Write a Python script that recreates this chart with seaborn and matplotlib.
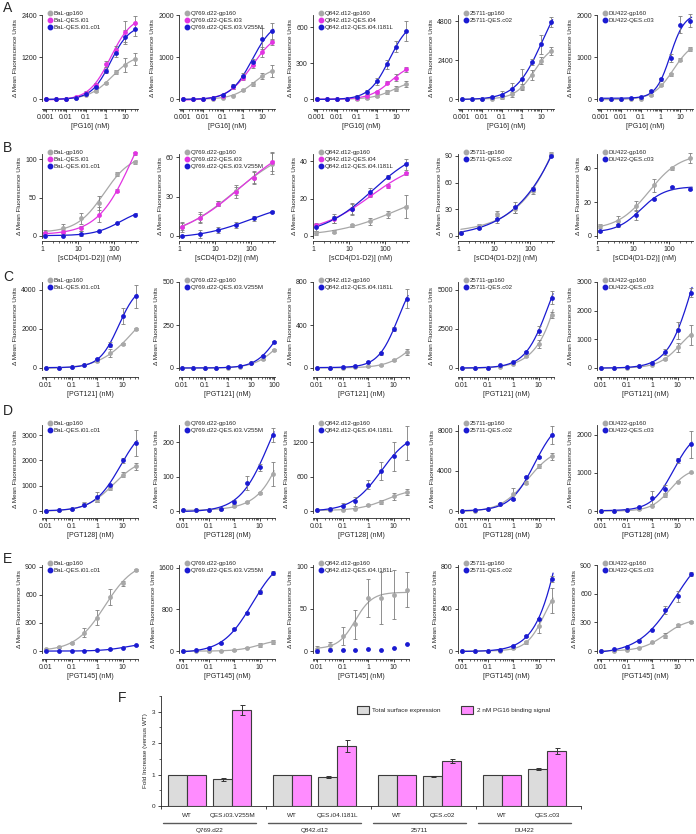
import numpy as np
import matplotlib
matplotlib.use("Agg")
import matplotlib.pyplot as plt
import seaborn as sns
from matplotlib.lines import Line2D
from matplotlib.patches import Patch
from matplotlib.ticker import (FuncFormatter, NullFormatter, MultipleLocator, FixedLocator,
                               LogLocator)

sns.set_style("ticks")
plt.rcParams["font.family"] = ["Liberation Sans", "DejaVu Sans"]

# ---------------- data ----------------
PG16_NM = [0.001, 0.0032, 0.01, 0.032, 0.1, 0.32, 1, 3.2, 10, 32]
SCD4_NM = [1.2, 3.8, 12, 38, 120, 380]
PGT_NM = [0.01, 0.032, 0.1, 0.32, 1, 3.2, 10, 32]
PGT121_Q769_NM = [0.01, 0.032, 0.1, 0.32, 1, 3.2, 10, 32, 100]

STRAINS = ["BaL", "Q769.d22", "Q842.d12", "25711", "DU422"]
MID_CLONES = ["QES.i01", "QES.i03", "QES.i04", "", ""]
END_CLONES = ["QES.i01.c01", "QES.i03.V255M", "QES.i04.I181L", "QES.c02", "QES.c03"]

# row A, PG16 (gp160 / mid clone / end clone)
A1_Y = [[0, 0, 5, 30, 120, 220, 460, 770, 960, 1150],
        [0, 0, 5, 50, 180, 400, 1000, 1410, 1920, 2180],
        [0, 0, 5, 40, 150, 330, 800, 1310, 1760, 1990]]
A1_ERR = [[0, 0, 0, 0, 15, 30, 40, 60, 200, 170],
          [0, 0, 0, 10, 40, 60, 90, 110, 300, 180],
          [0, 0, 0, 10, 30, 40, 60, 100, 200, 180]]
A2_Y = [[0, 0, 0, 10, 30, 80, 220, 350, 550, 670],
        [0, 0, 0, 20, 60, 275, 500, 800, 1120, 1360],
        [0, 0, 0, 20, 90, 300, 550, 880, 1430, 1610]]
A2_ERR = [[0, 0, 0, 0, 10, 15, 30, 50, 70, 150],
          [0, 0, 0, 5, 20, 40, 50, 60, 120, 80],
          [0, 0, 0, 5, 30, 60, 60, 80, 250, 200]]
A3_Y = [[0, 0, 0, 0, 0, 5, 28, 57, 85, 125],
        [0, 0, 0, 0, 6, 25, 57, 136, 176, 249],
        [0, 0, 0, 3, 20, 57, 147, 289, 436, 566]]
A3_ERR = [[5, 5, 5, 5, 5, 8, 10, 15, 20, 25],
          [0, 0, 5, 5, 5, 10, 10, 15, 30, 20],
          [5, 5, 5, 5, 10, 15, 30, 35, 45, 80]]
A4_Y = [[0, 0, 0, 0, 140, 280, 730, 1490, 2380, 2975],
        [0, 0, 0, 100, 260, 630, 1230, 2280, 3390, 4780]]
A4_ERR = [[0, 0, 0, 0, 60, 150, 200, 300, 200, 250],
          [0, 0, 0, 30, 250, 350, 600, 200, 600, 300]]
A5_Y = [[0, 0, 0, 0, 10, 100, 330, 590, 940, 1190],
        [0, 0, 0, 20, 55, 196, 470, 973, 1765, 1867]]
A5_ERR = [[0, 0, 0, 0, 5, 20, 30, 40, 30, 40],
          [0, 0, 0, 10, 20, 30, 40, 90, 200, 150]]

# row B, sCD4
B1_Y = [[4.5, 10, 23, 43.5, 81, 96], [3.6, 5.4, 10, 28, 59, 108], [0.5, 0.5, 3, 6, 16.6, 28]]
B1_ERR = [[3, 6, 7, 9, 3, 2], [2, 3, 3, 10, 2, 2], [1, 1, 3, 1, 1, 1]]
B2_Y = [[7, 14, 24.5, 34, 44.5, 55], [7.2, 13.6, 24.7, 33.7, 44.5, 56.7], [0, 1.5, 4.6, 8.5, 13.6, 18.3]]
B2_ERR = [[4, 4, 2, 3, 4, 8], [3, 3, 2, 5, 5, 7], [0.5, 3, 2, 2.5, 2, 0.5]]
B3_Y = [[1.8, 2.4, 5.7, 7.9, 11.6, 15.8], [6, 9, 14.3, 22, 27, 33.6], [4.6, 9.4, 14.7, 23.5, 31.7, 38.5]]
B3_ERR = [[1, 1, 1, 2, 2, 6], [1, 2, 3, 1, 1, 1], [2, 2.5, 3, 2, 1, 3]]
B4_Y = [[3.7, 11, 24.6, 30, 50, 92], [3.3, 9.2, 19, 32, 53, 89.6]]
B4_ERR = [[2, 2, 4, 4, 3, 2], [1, 1, 4, 6, 2, 1]]
B5_Y = [[6, 8.7, 17.7, 30, 40, 46], [2.8, 6.3, 12.5, 21.8, 28.8, 28]]
B5_ERR = [[1, 3, 3, 4, 1, 3], [0.5, 1, 3, 0.5, 1, 1]]

# row C, PGT121
C1_Y = [[0, 0, 50, 150, 340, 770, 1236, 1974], [0, 0, 50, 170, 480, 1200, 2660, 3660]]
C1_ERR = [[0, 0, 10, 20, 30, 200, 60, 50], [0, 0, 10, 20, 40, 150, 400, 600]]
C2_Y = [[0, 0, 0, 0, 2, 6, 27, 51, 106], [0, 0, 0, 2, 5, 10, 27, 72, 150]]
C2_ERR = [[0, 0, 0, 0, 1, 1, 2, 4, 5], [0, 0, 0, 1, 1, 1, 2, 5, 5]]
C3_Y = [[0, 0, 0, 9, 16, 25, 72, 148], [0, 0, 10, 22, 57, 135, 362, 646]]
C3_ERR = [[0, 0, 0, 2, 3, 4, 10, 30], [0, 0, 2, 4, 5, 10, 20, 90]]
C4_Y = [[0, 0, 10, 60, 275, 740, 1550, 3410], [0, 0, 30, 170, 360, 1017, 2390, 4500]]
C4_ERR = [[0, 0, 10, 10, 30, 60, 250, 200], [0, 0, 10, 20, 40, 60, 300, 400]]
C5_Y = [[0, 0, 0, 57, 115, 310, 720, 1165], [0, 0, 30, 80, 170, 570, 1314, 2630]]
C5_ERR = [[0, 0, 0, 10, 15, 30, 150, 350], [0, 0, 10, 15, 30, 100, 300, 150]]

# row D, PGT128
D1_Y = [[0, 20, 80, 267, 453, 893, 1427, 1760], [0, 30, 93, 227, 560, 1027, 2000, 2693]]
D1_ERR = [[0, 5, 10, 80, 80, 50, 100, 130], [0, 5, 10, 30, 200, 30, 100, 500]]
D2_Y = [[3, 3, 3, 5, 13.5, 26, 52, 108], [2, 2, 4, 7, 26, 81, 127.5, 222]]
D2_ERR = [[1, 1, 1, 1, 3, 2, 3, 35], [1, 1, 1, 1, 6, 20, 10, 20]]
D3_Y = [[15, 15, 23, 41, 99, 157, 255, 325], [23, 40, 81, 168, 458, 696, 951, 1189]]
D3_ERR = [[5, 5, 5, 10, 20, 30, 60, 50], [5, 10, 50, 80, 80, 150, 250, 300]]
D4_Y = [[0, 40, 200, 680, 1700, 2810, 4500, 5460], [0, 60, 220, 680, 1190, 3390, 5420, 7560]]
D4_ERR = [[0, 10, 30, 80, 600, 150, 200, 350], [0, 10, 30, 60, 60, 100, 100, 900]]
D5_Y = [[0, 0, 20, 44, 132, 423, 767, 1013], [0, 10, 30, 106, 352, 573, 1322, 1745]]
D5_ERR = [[0, 0, 5, 10, 10, 60, 20, 20], [0, 5, 10, 20, 170, 120, 70, 350]]

# row E, PGT145
E1_Y = [[18, 39, 86, 196, 357, 579, 721, 864], [0, 0, 0, 0, 7, 18, 36, 61]]
E1_ERR = [[5, 10, 10, 50, 80, 85, 30, 15], [0, 0, 0, 0, 1, 2, 3, 3]]
E2_Y = [[0, 0, 0, 0, 13, 66, 111, 177], [5, 13, 59, 144, 426, 734, 1128, 1489]]
E2_ERR = [[0, 0, 0, 0, 5, 15, 40, 40], [2, 2, 5, 10, 15, 20, 40, 40]]
E3_Y = [[2, 7, 17.6, 31.6, 62.8, 62.8, 66.8, 72.8], [0, 1, 1, 1.6, 2, 1, 3, 8.7]]
E3_ERR = [[4, 4, 11, 17, 23, 31, 29, 21], [0, 0, 0, 0, 0, 0, 0, 0]]
E4_Y = [[0, 0, 0, 3, 26, 81, 235, 477], [0, 0, 0, 10, 48, 139, 306, 681]]
E4_ERR = [[0, 0, 0, 2, 5, 10, 60, 120], [0, 0, 0, 3, 5, 10, 10, 30]]
E5_Y = [[0, 0, 15, 36, 89, 161, 268, 300], [0, 18, 40, 107, 225, 429, 571, 803]]
E5_ERR = [[0, 0, 3, 5, 8, 25, 15, 10], [0, 5, 5, 15, 10, 40, 60, 20]]

# panel F
F_GROUPS = ["Q769.d22", "Q842.d12", "25711", "DU422"]
F_MUTANTS = ["QES.i03.V255M", "QES.i04.I181L", "QES.c02", "QES.c03"]
F_SURF_WT = [1, 1, 1, 1]
F_PG16_WT = [1, 1, 1, 1]
F_SURF_MUT = [0.85, 0.92, 0.94, 1.18]
F_SURF_MUT_ERR = [0.05, 0.03, 0.01, 0.03]
F_PG16_MUT = [3.06, 1.91, 1.44, 1.75]
F_PG16_MUT_ERR = [0.15, 0.19, 0.06, 0.10]

# ---------------- layout / style ----------------
ROW_LETTERS = ["A", "B", "C", "D", "E"]
ROW_XLABELS = ["[PG16] (nM)", "[sCD4(D1-D2)] (nM)", "[PGT121] (nM)", "[PGT128] (nM)", "[PGT145] (nM)"]
ROW_Y = [[A1_Y, A2_Y, A3_Y, A4_Y, A5_Y], [B1_Y, B2_Y, B3_Y, B4_Y, B5_Y],
         [C1_Y, C2_Y, C3_Y, C4_Y, C5_Y], [D1_Y, D2_Y, D3_Y, D4_Y, D5_Y],
         [E1_Y, E2_Y, E3_Y, E4_Y, E5_Y]]
ROW_ERR = [[A1_ERR, A2_ERR, A3_ERR, A4_ERR, A5_ERR], [B1_ERR, B2_ERR, B3_ERR, B4_ERR, B5_ERR],
           [C1_ERR, C2_ERR, C3_ERR, C4_ERR, C5_ERR], [D1_ERR, D2_ERR, D3_ERR, D4_ERR, D5_ERR],
           [E1_ERR, E2_ERR, E3_ERR, E4_ERR, E5_ERR]]
ROW_YTICKS = [[[0, 1200, 2400], [0, 1000, 2000], [0, 300, 600], [0, 2400, 4800], [0, 1000, 2000]],
              [[0, 50, 100], [0, 30, 60], [0, 20, 40], [0, 30, 60, 90], [0, 20, 40]],
              [[0, 2000, 4000], [0, 250, 500], [0, 400, 800], [0, 2500, 5000], [0, 1000, 2000, 3000]],
              [[0, 1000, 2000, 3000], [0, 100, 200], [0, 600, 1200], [0, 4000, 8000], [0, 1000, 2000]],
              [[0, 300, 600, 900], [0, 800, 1600], [0, 50, 100], [0, 400, 800], [0, 300, 600, 900]]]
ROW_YTOP = [[2400, 2000, 700, 5200, 2000],
            [107, 62.5, 44, 92, 48.5],
            [4400, 500, 800, 5500, 3000],
            [3400, 250, 1500, 8600, 2250],
            [918, 1650, 102, 816, 900]]
NO_CURVE = [(4, 2, 1)]

W, H = 696, 834
COL_LEFT = [42, 179, 313, 458, 597]
COL_W = 96
ROW_TOP = [15, 154, 282, 425, 565]
ROW_ZERO = [99, 236, 368, 511, 651]
ROW_XAXIS = [109, 241, 377, 518, 659]
LETTER_TOP = [1, 141, 270, 404, 552]

GRAY = "#a8a8a8"
MAGENTA = "#e233e2"
BLUE = "#1a1ad2"
ERRC = "#7d7d7d"
BAR_GRAY = "#dcdcdc"
BAR_PINK = "#ff8cff"
BAR_EDGE = "#3c3c3c"


def px_rect(l, t, r, b):
    return [l / W, 1 - b / H, (r - l) / W, (b - t) / H]


def hill_curve(x, y):
    # least-squares 4-parameter logistic fit (grid over EC50 / slope)
    lx = np.log10(np.asarray(x, float))
    y = np.asarray(y, float)
    cs = np.linspace(lx.min() - 1, lx.max() + 1.5, 90)
    ns = np.linspace(0.5, 2.5, 41)
    C, N = np.meshgrid(cs, ns, indexing="ij")
    F = 1 / (1 + 10 ** ((C[..., None] - lx) * N[..., None]))
    fm = F.mean(-1)
    ym = y.mean()
    den = ((F - fm[..., None]) ** 2).sum(-1) + 1e-12
    t = np.clip(((F - fm[..., None]) * (y - ym)).sum(-1) / den, 0, None)
    b = ym - t * fm
    res = ((b[..., None] + t[..., None] * F - y) ** 2).sum(-1)
    i, j = np.unravel_index(res.argmin(), res.shape)
    xs = np.logspace(lx.min(), lx.max() + 0.06, 150)
    ys = b[i, j] + t[i, j] / (1 + 10 ** ((cs[i] - np.log10(xs)) * ns[j]))
    return xs, ys


fig = plt.figure(figsize=(W / 100, H / 100), dpi=100)

for r, letter in enumerate(ROW_LETTERS):
    fig.text(3 / W, 1 - LETTER_TOP[r] / H, letter, fontsize=10, va="top", ha="left")
    for c in range(5):
        if r == 0:
            x, xlim = PG16_NM, (0.00063, 43)
        elif r == 1:
            x, xlim = SCD4_NM, (1, 460)
        elif r == 2 and c == 1:
            x, xlim = PGT121_Q769_NM, (0.0077, 110)
        else:
            x, xlim = PGT_NM, (0.007, 40)

        ys = ROW_Y[r][c]
        errs = ROW_ERR[r][c]
        strain = STRAINS[c]
        if len(ys) == 3:
            labels = [f"{strain}-gp160", f"{strain}-{MID_CLONES[c]}", f"{strain}-{END_CLONES[c]}"]
            colors = [GRAY, MAGENTA, BLUE]
        else:
            labels = [f"{strain}-gp160", f"{strain}-{END_CLONES[c]}"]
            colors = [GRAY, BLUE]

        top_px, zero_px = ROW_TOP[r], ROW_ZERO[r]
        bottom_px = zero_px + 2
        ax = fig.add_axes(px_rect(COL_LEFT[c], top_px, COL_LEFT[c] + COL_W, bottom_px))
        ytop = ROW_YTOP[r][c]
        ybot = -ytop * (bottom_px - zero_px) / (zero_px - top_px)

        for k, (yv, ev, col) in enumerate(zip(ys, errs, colors)):
            if (r, c, k) not in NO_CURVE:
                xs, yc = hill_curve(x, yv)
                sns.lineplot(x=xs, y=yc, color=col, lw=0.9, sort=False, ax=ax, zorder=2)
            ax.errorbar(x, yv, yerr=ev, fmt="none", ecolor=ERRC, elinewidth=0.6,
                        capsize=1.2, capthick=0.6, zorder=2.5, clip_on=False)
            sns.scatterplot(x=x, y=yv, color=col, s=12, linewidth=0, ax=ax,
                            zorder=3, clip_on=False)

        ax.set_xscale("log")
        ax.set_xlim(*xlim)
        ax.set_ylim(ybot, ytop)
        ax.xaxis.set_major_locator(LogLocator(base=10, numticks=20))
        ax.xaxis.set_minor_locator(LogLocator(base=10, subs=np.arange(2, 10), numticks=20))
        ax.yaxis.set_major_locator(FixedLocator(ROW_YTICKS[r][c]))
        ax.xaxis.set_major_formatter(FuncFormatter(lambda v, p: f"{v:g}"))
        ax.xaxis.set_minor_formatter(NullFormatter())
        ax.tick_params(axis="both", which="major", labelsize=5, length=2.2, width=0.6, pad=1.5)
        ax.tick_params(axis="x", which="minor", length=1.3, width=0.5)
        ax.set_xlabel(ROW_XLABELS[r], fontsize=5, labelpad=1.5)
        ax.set_ylabel("\u0394 Mean Fluorescence Units", fontsize=4.6, labelpad=2)
        for sp in ax.spines.values():
            sp.set_linewidth(0.6)
        sns.despine(ax=ax, offset={"bottom": (ROW_XAXIS[r] - bottom_px) * 0.72, "left": 0})

        handles = [Line2D([], [], marker="o", ls="", color=col, markersize=3.2) for col in colors]
        ax.legend(handles, labels, loc="upper left", bbox_to_anchor=(0.05, 1.05), frameon=False,
                  fontsize=4.4, handletextpad=0.1, handlelength=1.0, labelspacing=0.3,
                  borderpad=0, borderaxespad=0)

# ---------------- panel F ----------------
fig.text(118 / W, 1 - 691 / H, "F", fontsize=10, va="top", ha="left")
axf = fig.add_axes(px_rect(161, 696, 581, 806))
group_w = 5.5
starts = [g * group_w for g in range(len(F_GROUPS))]
wt_gray = [s + 0.87 for s in starts]
wt_pink = [s + 1.87 for s in starts]
mut_gray = [s + 3.24 for s in starts]
mut_pink = [s + 4.24 for s in starts]
bar_kw = dict(width=1.0, edgecolor=BAR_EDGE, linewidth=0.8, zorder=2)
axf.bar(wt_gray, F_SURF_WT, color=BAR_GRAY, **bar_kw)
axf.bar(wt_pink, F_PG16_WT, color=BAR_PINK, **bar_kw)
axf.bar(mut_gray, F_SURF_MUT, color=BAR_GRAY, **bar_kw)
axf.bar(mut_pink, F_PG16_MUT, color=BAR_PINK, **bar_kw)
axf.errorbar(mut_gray, F_SURF_MUT, yerr=F_SURF_MUT_ERR, fmt="none", ecolor="#333333",
             elinewidth=0.7, capsize=1.8, capthick=0.7, zorder=3)
axf.errorbar(mut_pink, F_PG16_MUT, yerr=F_PG16_MUT_ERR, fmt="none", ecolor="#333333",
             elinewidth=0.7, capsize=1.8, capthick=0.7, zorder=3)
axf.set_xlim(0, group_w * len(F_GROUPS))
axf.set_ylim(0, 3.5)
axf.set_xticks([s for s in starts] + [group_w * len(F_GROUPS)])
axf.set_xticklabels([])
axf.yaxis.set_major_locator(MultipleLocator(1))
axf.yaxis.set_minor_locator(MultipleLocator(0.5))
axf.tick_params(axis="both", which="major", labelsize=4.6, length=2.5, width=0.6, pad=1.5)
axf.tick_params(axis="y", which="minor", length=1.5, width=0.5)
axf.set_ylabel("Fold Increase (versus WT)", fontsize=4.6, labelpad=3)
for sp in axf.spines.values():
    sp.set_linewidth(0.6)
sns.despine(ax=axf)
tr = axf.get_xaxis_transform()
for g, s in enumerate(starts):
    axf.text(s + 1.37, -0.085, "WT", transform=tr, ha="center", va="center", fontsize=4.6)
    axf.text(s + 3.74, -0.085, F_MUTANTS[g], transform=tr, ha="center", va="center", fontsize=4.6)
    axf.plot([s + 0.1, s + 5.0], [-0.155, -0.155], transform=tr, color="#5a5a5a", lw=1.0,
             clip_on=False)
    axf.text(s + 2.55, -0.22, F_GROUPS[g], transform=tr, ha="center", va="center", fontsize=4.6)
fh = [Patch(facecolor=BAR_GRAY, edgecolor=BAR_EDGE, linewidth=0.8),
      Patch(facecolor=BAR_PINK, edgecolor=BAR_EDGE, linewidth=0.8)]
axf.legend(fh, ["Total surface expression", "2 nM PG16 binding signal"], loc="upper left",
           bbox_to_anchor=(0.467, 0.91), ncol=2, frameon=False, fontsize=4.6,
           handlelength=1.8, handleheight=1.6, columnspacing=3.2, handletextpad=0.6,
           borderaxespad=0, borderpad=0)

fig.savefig("out.png", dpi=100)
